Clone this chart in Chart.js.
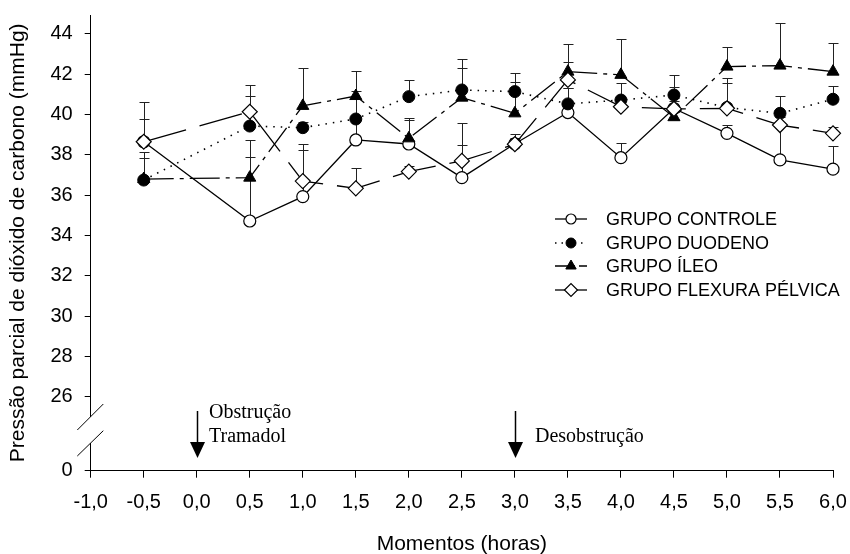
<!DOCTYPE html>
<html><head><meta charset="utf-8">
<script src="https://cdn.jsdelivr.net/npm/chart.js@4.4.1/dist/chart.umd.min.js"></script>
<style>html,body{margin:0;padding:0;background:#fff}#wrap{width:850px;height:554px;position:relative}</style>
</head><body><div id="wrap"><canvas id="c"></canvas></div>
<script>
// ---- data ----
const moments = [-0.5, 0.5, 1.0, 1.5, 2.0, 2.5, 3.0, 3.5, 4.0, 4.5, 5.0, 5.5, 6.0];
const seriesNames = ["GRUPO CONTROLE", "GRUPO DUODENO", "GRUPO ÍLEO", "GRUPO FLEXURA PÉLVICA"];
const controle    = [38.65, 34.72, 35.93, 38.74, 38.54, 36.87, 38.55, 40.10, 37.86, 40.30, 39.07, 37.75, 37.29];
const controleErr = [1.13, 4.02, 2.30, 1.00, 1.20, 1.60, 0.50, 1.20, 0.72, 0.50, 0.41, 1.70, 1.15];
const duodeno     = [36.75, 39.43, 39.35, 39.78, 40.89, 41.22, 41.14, 40.53, 40.72, 40.97, 40.35, 40.06, 40.76];
const duodenoErr  = [1.10, 1.49, 0.30, 1.41, 0.83, 1.54, 0.94, 0.77, 0.86, 1.00, 1.48, 0.88, 0.66];
const ileo        = [36.80, 36.87, 40.43, 40.92, 38.82, 40.84, 40.06, 42.13, 41.97, 39.87, 42.38, 42.43, 42.13];
const ileoErr     = [1.36, 1.01, 1.90, 1.24, 1.00, 1.49, 1.54, 1.36, 1.80, 1.48, 0.99, 2.10, 1.41];
const flexura     = [38.65, 40.14, 36.70, 36.34, 37.17, 37.70, 38.53, 41.72, 40.39, 40.28, 40.31, 39.48, 39.07];
const flexuraErr  = [1.99, 1.33, 1.83, 0.99, 0.30, 1.88, 0.30, 0.91, 0.40, 0.40, 1.27, 0.40, 0.30];
const xTickValues = [-1.0, -0.5, 0.0, 0.5, 1.0, 1.5, 2.0, 2.5, 3.0, 3.5, 4.0, 4.5, 5.0, 5.5, 6.0];
const yTickValues = [26, 28, 30, 32, 34, 36, 38, 40, 42, 44];
const yBreakValue = 22.33;
const yBreakLabel = "0";
const yMax = 44.94;
const annotations = [
  {x: 0.0, lines: ["Obstrução", "Tramadol"]},
  {x: 3.0, lines: ["Desobstrução"]}
];
const xTitle = "Momentos (horas)";
const yTitle = "Pressão parcial de dióxido de carbono (mmHg)";

// ---- chart ----
const SANS = "'Liberation Sans', Arial, sans-serif";
const SERIF = "'Liberation Serif', 'Times New Roman', serif";
const toPts = arr => arr.map((v, i) => ({x: moments[i], y: v}));
const errs = [controleErr, duodenoErr, ileoErr, flexuraErr];

const datasets = [
  {label: seriesNames[0], data: toPts(controle), borderColor: '#000', borderWidth: 1.3, borderDash: [],
   pointStyle: 'circle', pointRadius: 6, pointBackgroundColor: '#fff', pointBorderColor: '#000', pointBorderWidth: 1.2, order: 3},
  {label: seriesNames[1], data: toPts(duodeno), borderColor: '#000', borderWidth: 1.6, borderDash: [1.5, 6],
   pointStyle: 'circle', pointRadius: 6, pointBackgroundColor: '#000', pointBorderColor: '#000', pointBorderWidth: 1, order: 1},
  {label: seriesNames[2], data: toPts(ileo), borderColor: '#000', borderWidth: 1.3, borderDash: [30, 6, 4, 6],
   pointStyle: 'triangle', pointRadius: 7, pointBackgroundColor: '#000', pointBorderColor: '#000', pointBorderWidth: 1, order: 2},
  {label: seriesNames[3], data: toPts(flexura), borderColor: '#000', borderWidth: 1.3, borderDash: [44, 14],
   pointStyle: 'rectRot', pointRadius: 7.5, pointBackgroundColor: '#fff', pointBorderColor: '#000', pointBorderWidth: 1.2, order: 0}
].map(d => Object.assign({showLine: true, tension: 0, clip: false, fill: false, pointHoverRadius: d.pointRadius}, d));

const errPlugin = {
  id: 'errbars',
  beforeDatasetsDraw(chart) {
    const ctx = chart.ctx, xs = chart.scales.x, ys = chart.scales.y;
    ctx.save();
    ctx.strokeStyle = '#222'; ctx.lineWidth = 1;
    chart.data.datasets.forEach((ds, di) => {
      ds.data.forEach((p, i) => {
        const e = errs[di][i];
        const px = Math.round(xs.getPixelForValue(p.x)) + 0.5;
        const y0 = ys.getPixelForValue(p.y), y1 = Math.round(ys.getPixelForValue(p.y + e)) + 0.5;
        ctx.beginPath(); ctx.moveTo(px, y0); ctx.lineTo(px, y1);
        ctx.moveTo(px - 5, y1); ctx.lineTo(px + 5, y1); ctx.stroke();
      });
    });
    ctx.restore();
  }
};

const decoPlugin = {
  id: 'deco',
  afterDraw(chart) {
    const ctx = chart.ctx, xs = chart.scales.x, ys = chart.scales.y, ca = chart.chartArea;
    ctx.save();
    // axis break
    ctx.fillStyle = '#fff';
    ctx.fillRect(ca.left - 3, 417, 6, 26);
    ctx.strokeStyle = '#000'; ctx.lineWidth = 1;
    ctx.beginPath();
    ctx.moveTo(ca.left - 13.4, 430); ctx.lineTo(ca.left + 12.6, 404);
    ctx.moveTo(ca.left - 13.4, 456); ctx.lineTo(ca.left + 12.6, 430.7);
    ctx.stroke();
    // annotations with arrows
    ctx.fillStyle = '#000';
    annotations.forEach(a => {
      const px = Math.round(xs.getPixelForValue(a.x)) + 0.5;
      ctx.lineWidth = 1.5;
      ctx.beginPath(); ctx.moveTo(px, 411); ctx.lineTo(px, 444); ctx.stroke();
      ctx.beginPath(); ctx.moveTo(px - 7.5, 442); ctx.lineTo(px + 7.5, 442); ctx.lineTo(px, 458); ctx.closePath(); ctx.fill();
      ctx.font = '20px ' + SERIF; ctx.textAlign = 'left'; ctx.textBaseline = 'alphabetic';
      if (a.lines.length === 2) {
        ctx.fillText(a.lines[0], px + 11.5, 418);
        ctx.fillText(a.lines[1], px + 11.5, 442);
      } else {
        ctx.fillText(a.lines[0], px + 19.5, 442);
      }
    });
    // legend
    const rows = [219, 243, 266, 290];
    chart.data.datasets.forEach((ds, i) => {
      const y = rows[i];
      ctx.save();
      ctx.strokeStyle = '#000'; ctx.lineWidth = ds.borderWidth;
      ctx.setLineDash(i === 1 ? [1.5, 5] : (i === 2 ? [14, 4, 2, 4] : []));
      ctx.beginPath(); ctx.moveTo(555, y); ctx.lineTo(587, y); ctx.stroke();
      ctx.restore();
      ctx.fillStyle = ds.pointBackgroundColor; ctx.strokeStyle = '#000'; ctx.lineWidth = ds.pointBorderWidth;
      Chart.helpers.drawPoint(ctx, {pointStyle: ds.pointStyle, radius: ds.pointRadius - 1, rotation: 0, borderWidth: ds.pointBorderWidth}, 571, y);
      ctx.fillStyle = '#000';
      ctx.font = '18px ' + SANS; ctx.textAlign = 'left'; ctx.textBaseline = 'middle';
      ctx.fillText(ds.label, 606, y + 1);
    });
    ctx.restore();
  }
};

new Chart(document.getElementById('c'), {
  type: 'line',
  data: {datasets},
  options: {
    responsive: true, maintainAspectRatio: false, animation: false, devicePixelRatio: 1,
    layout: {padding: {left: 0, right: 17, top: 15, bottom: 0}},
    plugins: {legend: {display: false}, tooltip: {enabled: false}},
    scales: {
      x: {
        type: 'linear', min: -1, max: 6,
        afterBuildTicks: s => { s.ticks = xTickValues.map(v => ({value: v})); },
        afterFit: s => { s.height = 83.3; s.paddingLeft = 0; s.paddingRight = 0; },
        ticks: {color: '#000', font: {family: SANS, size: 20}, padding: 13, maxRotation: 0, autoSkip: false,
                callback: v => Number(v).toFixed(1).replace('.', ',')},
        grid: {display: true, drawOnChartArea: false, drawTicks: true, tickLength: 7, color: '#000', lineWidth: 1},
        border: {display: true, color: '#000', width: 1},
        title: {display: true, text: xTitle, color: '#000', font: {family: SANS, size: 21, lineHeight: 1.0}, padding: {top: 0, bottom: -1}}
      },
      y: {
        type: 'linear', min: yBreakValue, max: yMax,
        afterBuildTicks: s => { s.ticks = [yBreakValue].concat(yTickValues).map(v => ({value: v})); },
        afterFit: s => { s.width = 90.7; s.paddingTop = 0; s.paddingBottom = 0; },
        ticks: {color: '#000', font: {family: SANS, size: 20}, padding: 12, autoSkip: false,
                callback: v => (v === yBreakValue ? yBreakLabel : String(v))},
        grid: {display: true, drawOnChartArea: false, drawTicks: true, tickLength: 6, color: '#000', lineWidth: 1},
        border: {display: true, color: '#000', width: 1},
        title: {display: true, text: yTitle, color: '#000', font: {family: SANS, size: 21}, padding: {top: 6, bottom: 0}}
      }
    }
  },
  plugins: [errPlugin, decoPlugin]
});
</script>
</body></html>
